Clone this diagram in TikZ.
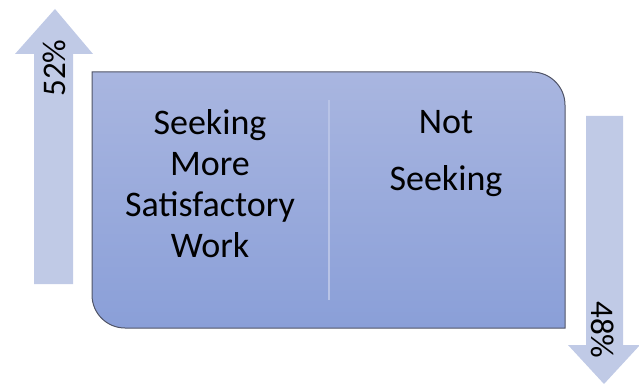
\documentclass[tikz,border=0pt]{standalone}
\usepackage{fontspec}
\setmainfont{Carlito}
\definecolor{arrowfill}{HTML}{C0CAE6}
\definecolor{boxtop}{HTML}{A9B6E0}
\definecolor{boxbot}{HTML}{8A9FD8}
\definecolor{boxline}{HTML}{505466}
\definecolor{divider}{HTML}{B8C3E6}
\tikzset{
  bigarrow/.style={fill=arrowfill, draw=none},
  lbl/.style={font=\fontsize{36}{41}\selectfont, inner sep=0pt, text=black, anchor=base},
  pct/.style={font=\fontsize{33}{38}\selectfont, inner sep=0pt, text=black},
}
\begin{document}
\begin{tikzpicture}[x=1pt,y=-1pt]
\useasboundingbox (0,0) rectangle (639,385);
% left up arrow
\fill[bigarrow] (34,284) -- (34,54) -- (15,54) -- (55,9) -- (93,54) -- (73,54) -- (73,284) -- cycle;
\node[pct, rotate=90] (p52) at (54,68) {52\%};
% right down arrow
\fill[bigarrow] (586,116) -- (586,345) -- (568,345) -- (604,384) -- (640,345) -- (623,345) -- (623,116) -- cycle;
\node[pct, rotate=-90] (p48) at (603,330) {48\%};
% main box
\draw[boxline, line width=1pt, top color=boxtop, bottom color=boxbot]
  (92,72) -- (532,72) arc[start angle=-90, end angle=0, radius=33] -- (565,328)
  -- (125,328) arc[start angle=90, end angle=180, radius=33] -- cycle;
\coordinate (dtop) at (329,100);
\coordinate (dbot) at (329,300);
\draw[divider, line width=1.5pt] (dtop) -- (dbot);
\node[lbl] (l1) at (210,134) {Seeking};
\node[lbl] (l2) at (210,175) {More};
\node[lbl] (l3) at (210,216) {Satisfactory};
\node[lbl] (l4) at (210,257) {Work};
\node[lbl] (r1) at (446,133) {Not};
\node[lbl] (r2) at (446,190) {Seeking};
\end{tikzpicture}
\end{document}
